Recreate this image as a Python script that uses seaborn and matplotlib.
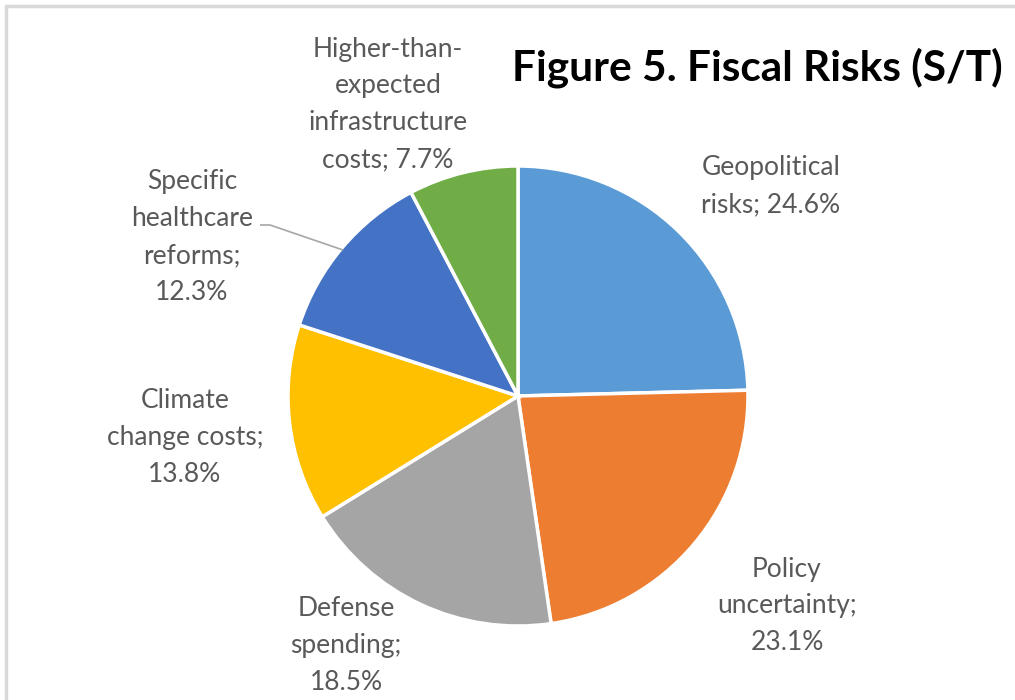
import matplotlib
matplotlib.use("Agg")
import matplotlib.pyplot as plt
import seaborn as sns

# Short-term fiscal risk shares (%)
categories = [
    "Geopolitical risks",
    "Policy uncertainty",
    "Defense spending",
    "Climate change costs",
    "Specific healthcare reforms",
    "Higher-than-expected infrastructure costs",
]
shares = [24.6, 23.1, 18.5, 13.8, 12.3, 7.7]
label_lines = [
    ["Geopolitical", "risks; 24.6%"],
    ["Policy", "uncertainty;", "23.1%"],
    ["Defense", "spending;", "18.5%"],
    ["Climate", "change costs;", "13.8%"],
    ["Specific", "healthcare", "reforms;", "12.3%"],
    ["Higher-than-", "expected", "infrastructure", "costs; 7.7%"],
]
title = "Figure 5. Fiscal Risks (S/T)"

sns.set_theme(style="white")
plt.rcParams["font.family"] = ["Lato", "DejaVu Sans"]

colors = sns.color_palette(["#5B9BD5", "#ED7D31", "#A5A5A5", "#FFC000", "#4472C4", "#70AD47"])

W, H = 1015, 700
fig = plt.figure(figsize=(W / 100, H / 100), dpi=100)
ax = fig.add_axes([0, 0, 1, 1])

cx, cy, r = 518, H - 396, 230
ax.pie(
    shares,
    colors=colors,
    startangle=90,
    counterclock=False,
    center=(cx, cy),
    radius=r,
    wedgeprops=dict(edgecolor="white", linewidth=2.5),
    frame=True,
)
ax.set_xlim(0, W)
ax.set_ylim(0, H)
ax.set_aspect("equal")
ax.axis("off")

# Data label placement (label centre x, y of first line)
label_pos = [
    (771, 168),
    (787, 569),
    (346, 609),
    (185, 400),
    (192, 182),
    (388, 49),
]
line_gap = 37
for lines, (lx, ly) in zip(label_lines, label_pos):
    for i, txt in enumerate(lines):
        ax.text(lx, H - (ly + i * line_gap), txt, ha="center", va="center",
                fontsize=19, color="#595959")

# Leader line for the healthcare label
ax.plot([260, 270, 343], [H - 225, H - 225, H - 250], color="#A6A6A6", lw=1.2,
        solid_capstyle="butt")

ax.text(757, H - 68, title, ha="center", va="center", fontsize=30.5,
        fontweight="bold", color="black")

# Chart frame (top and left edges visible)
fig.add_artist(plt.Line2D([6 / W, 1], [1 - 6 / H, 1 - 6 / H], color="#D9D9D9", lw=2.5,
                          transform=fig.transFigure))
fig.add_artist(plt.Line2D([6 / W, 6 / W], [0, 1 - 6 / H], color="#D9D9D9", lw=2.5,
                          transform=fig.transFigure))

fig.savefig("out.png", dpi=100, facecolor="white")
